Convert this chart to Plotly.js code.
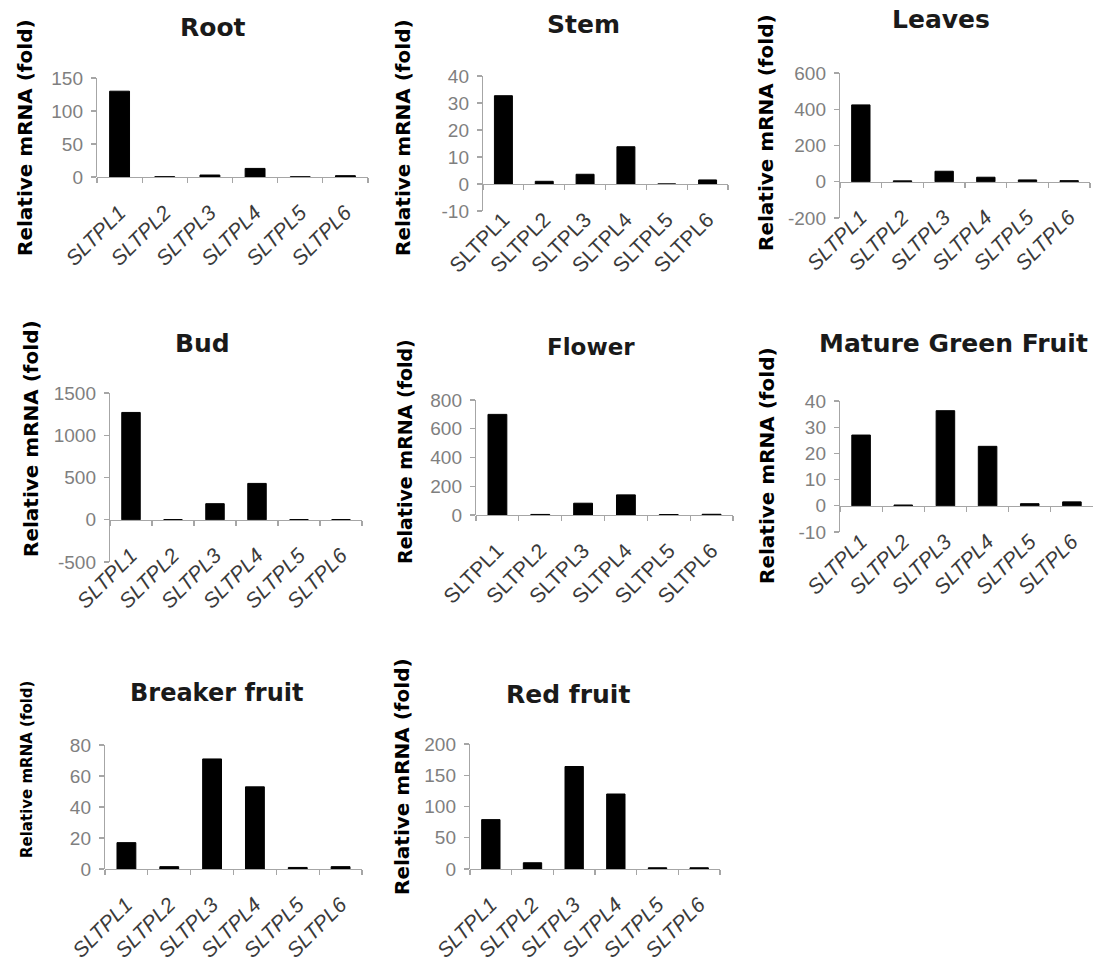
<!DOCTYPE html>
<html>
<head>
<meta charset="utf-8">
<script src="https://cdn.plot.ly/plotly-3.0.1.min.js"></script>
<style>html,body{margin:0;padding:0;background:#fff;}#chart{width:1100px;height:967px;}</style>
</head>
<body>
<div id="chart"></div>
<script>
// ---------- data ----------
const categories = ['SLTPL1', 'SLTPL2', 'SLTPL3', 'SLTPL4', 'SLTPL5', 'SLTPL6'];
const tissues = ['Root', 'Stem', 'Leaves', 'Bud', 'Flower', 'Mature Green Fruit', 'Breaker fruit', 'Red fruit'];
const rootVals    = [130, 0.4, 3, 13, 0.3, 2];
const stemVals    = [32.7, 1, 3.6, 13.8, 0, 1.5];
const leavesVals  = [424, 5, 58, 25, 10, 6];
const budVals     = [1270, 2, 190, 430, 2, 2];
const flowerVals  = [700, 4, 82, 140, 3, 5];
const mgfVals     = [27, 0.3, 36.3, 22.7, 0.8, 1.5];
const breakerVals = [17, 1.5, 71, 53, 1, 1.5];
const redVals     = [79, 10, 164, 120, 2, 2];
const yMin  = [0, -10, -200, -500, 0, -10, 0, 0];
const yMax  = [150, 40, 600, 1500, 800, 40, 80, 200];
const yStep = [50, 10, 200, 500, 200, 10, 20, 50];
const yTitle = 'Relative mRNA (fold)';

const series = [rootVals, stemVals, leavesVals, budVals, flowerVals, mgfVals, breakerVals, redVals];

// ---------- layout (pixel boxes of each plot area) ----------
const W = 1100, H = 967;
const boxes = [ // [left, right, top, bottom] in px
  [97, 368, 78, 177],
  [483, 728, 76, 211],
  [840, 1090, 73, 218],
  [110, 362, 393, 562],
  [476, 733, 400, 515],
  [840, 1093, 401, 532],
  [105, 362, 745, 869],
  [470, 720, 744, 869]
];
const italicTicks = [true, false, true, true, false, true, true, true];
const titlePos = [[213, 27], [583, 24], [941, 19], [202, 343], [591, 347], [953, 343], [216, 693], [568, 694]];
const titleSize = [25, 25, 25, 25, 23, 25, 24, 25];
const yTitlePos = [[25, 138], [403, 138], [766, 133], [31, 439], [405, 452], [767, 466], [27, 770], [402, 777]];
const yTitleSize = [20, 20, 20, 20, 19, 20, 15, 20];

const axisColor = '#a6a6a6';
const traces = [];
const layout = {
  width: W, height: H,
  margin: {l: 0, r: 0, t: 0, b: 0},
  paper_bgcolor: '#ffffff', plot_bgcolor: '#ffffff',
  showlegend: false,
  bargap: 0.56,
  annotations: []
};

series.forEach((vals, i) => {
  const n = i === 0 ? '' : String(i + 1);
  const [l, r, t, b] = boxes[i];
  const yd = [1 - b / H, 1 - t / H];
  const zeroFrac = (0 - yMin[i]) / (yMax[i] - yMin[i]);
  const tv = [];
  for (let v = yMin[i]; v <= yMax[i]; v += yStep[i]) tv.push(v);
  traces.push({
    type: 'bar', x: categories, y: vals,
    xaxis: 'x' + n, yaxis: 'y' + n,
    marker: {color: '#000000', line: {color: '#000000', width: 1}},
    hoverinfo: 'x+y'
  });
  layout['xaxis' + n] = {
    domain: [l / W, r / W],
    anchor: 'free',
    position: yd[0] + zeroFrac * (yd[1] - yd[0]),
    type: 'category',
    showline: true, linecolor: axisColor, linewidth: 1.2,
    ticks: 'outside', tickson: 'boundaries', ticklen: 5, tickcolor: axisColor, tickwidth: 1.2,
    tickangle: -45,
    ticklabelstandoff: 14,
    tickfont: {family: 'Liberation Sans, Arial, sans-serif', size: 21, color: '#3a3a3a',
               style: italicTicks[i] ? 'italic' : 'normal'},
    showgrid: false, zeroline: false, fixedrange: true
  };
  layout['yaxis' + n] = {
    domain: yd,
    anchor: 'x' + n,
    range: [yMin[i], yMax[i]],
    tickmode: 'array', tickvals: tv, ticktext: tv.map(v => String(v)),
    showline: true, linecolor: axisColor, linewidth: 1.2,
    ticks: 'outside', ticklen: 5, tickcolor: axisColor, tickwidth: 1.2,
    ticklabelstandoff: 4,
    tickfont: {family: 'Liberation Sans, Arial, sans-serif', size: 19, color: '#7f7f7f'},
    showgrid: false, zeroline: false, fixedrange: true
  };
  layout.annotations.push({
    text: tissues[i], xref: 'paper', yref: 'paper',
    x: titlePos[i][0] / W, y: 1 - titlePos[i][1] / H,
    xanchor: 'center', yanchor: 'middle', showarrow: false,
    font: {family: 'DejaVu Sans, sans-serif', size: titleSize[i], color: '#1a1a1a', weight: 'bold'}
  });
  layout.annotations.push({
    text: yTitle, xref: 'paper', yref: 'paper',
    x: yTitlePos[i][0] / W, y: 1 - yTitlePos[i][1] / H,
    xanchor: 'center', yanchor: 'middle', showarrow: false, textangle: -90,
    font: {family: 'DejaVu Sans, sans-serif', size: yTitleSize[i], color: '#000000', weight: 'bold'}
  });
});

Plotly.newPlot('chart', traces, layout, {staticPlot: true, displayModeBar: false});
</script>
</body>
</html>
